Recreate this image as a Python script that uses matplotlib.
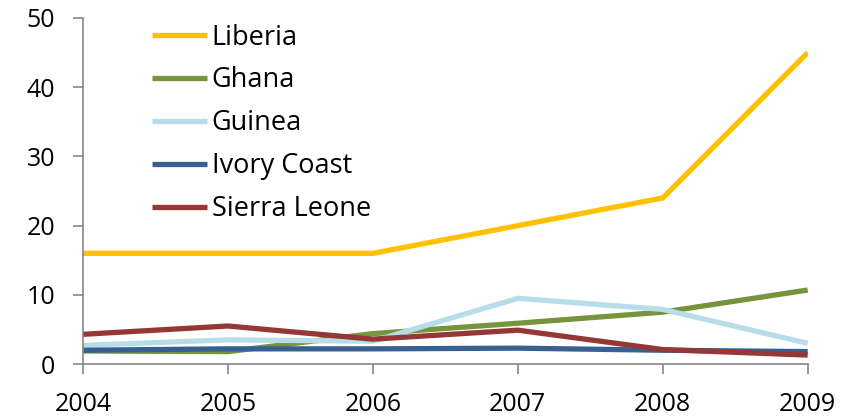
import matplotlib
matplotlib.use("Agg")
import matplotlib.pyplot as plt

years = [2004, 2005, 2006, 2007, 2008, 2009]
series_names = ["Liberia", "Ghana", "Guinea", "Ivory Coast", "Sierra Leone"]
liberia = [16, 16, 16, 20, 24, 45]
ghana = [1.9, 1.8, 4.4, 5.9, 7.5, 10.7]
guinea = [2.7, 3.5, 3.3, 9.5, 7.9, 3.0]
ivory_coast = [2.0, 2.2, 2.2, 2.3, 2.0, 1.8]
sierra_leone = [4.3, 5.5, 3.6, 4.9, 2.1, 1.3]
colors = ["#FFC000", "#77933C", "#B7DEE8", "#376092", "#953735"]

plt.rcParams['font.family'] = ['Open Sans', 'DejaVu Sans']

fig = plt.figure(figsize=(8.52, 4.18), dpi=100)
ax = fig.add_axes([0.0974, 0.129, 0.8506, 0.828])

for name, vals, c in zip(series_names, [liberia, ghana, guinea, ivory_coast, sierra_leone], colors):
    ax.plot(years, vals, color=c, lw=3.8, label=name, solid_capstyle='butt', solid_joinstyle='miter')

ax.set_xlim(2004, 2009)
ax.set_ylim(0, 50)
ax.set_xticks(years)
ax.set_yticks([0, 10, 20, 30, 40, 50])
ax.tick_params(direction='out', length=7, width=1.2, color='#868686', labelsize=18, pad=13)
for s in ['top', 'right']:
    ax.spines[s].set_visible(False)
for s in ['left', 'bottom']:
    ax.spines[s].set_color('#868686')
    ax.spines[s].set_linewidth(1.2)

leg = ax.legend(loc='upper left', bbox_to_anchor=(0.095, 0.984), frameon=False, fontsize=19.5,
                handlelength=2.03, handletextpad=0.18, labelspacing=0.55, borderaxespad=0,
                borderpad=0)

fig.savefig("out.png", dpi=100)
